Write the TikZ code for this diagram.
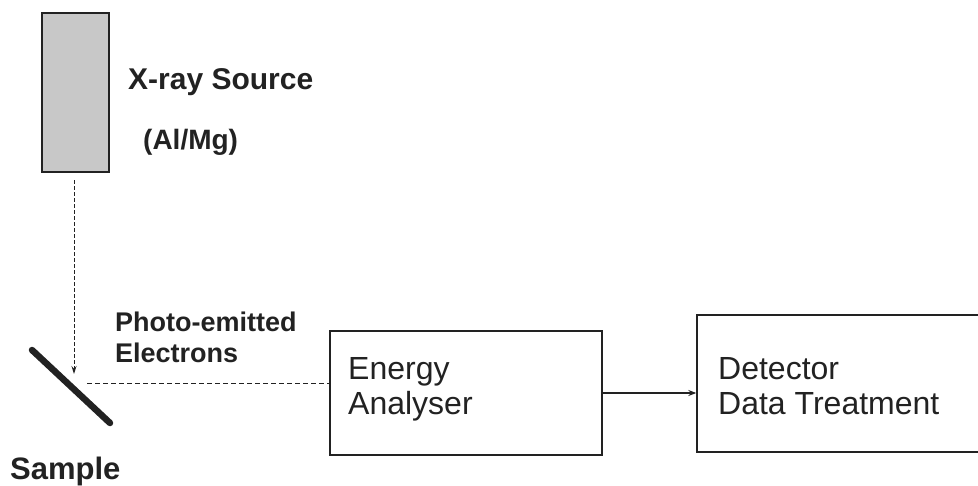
\documentclass[tikz,border=0pt]{standalone}
\usepackage{fontspec}
\setmainfont{Liberation Sans}
\usetikzlibrary{arrows.meta}
\definecolor{ink}{HTML}{222222}
\definecolor{srcgray}{HTML}{C8C8C8}
\begin{document}
\begin{tikzpicture}[x=1pt,y=-1pt,
  box/.style={draw=ink, line width=1.4pt, rectangle, inner sep=0pt},
  lbl/.style={anchor=base west, inner sep=0pt, text=ink, font=\fontsize{27}{30}\selectfont\bfseries},
  boxtxt/.style={anchor=base west, inner sep=0pt, text=ink, font=\fontsize{32}{34}\selectfont},
  dsh/.style={draw=ink, line width=1pt, dash pattern=on 5pt off 3pt}]
\useasboundingbox (0,0) rectangle (978,485);
\clip (0,0) rectangle (978,485);
% X-ray source
\node[box, fill=srcgray, minimum width=67pt, minimum height=159pt] (src) at (75.5,92.5) {};
\node[lbl, font=\fontsize{30}{32}\selectfont\bfseries] (srclbl) at (128,89) {X-ray Source};
\node[lbl, font=\fontsize{28}{32}\selectfont\bfseries] (srcmat) at (143,149) {(Al/Mg)};
% sample
\coordinate (s1) at (32,350);
\coordinate (s2) at (110,423);
\draw[ink, line width=6.5pt, line cap=round] (s1) -- (s2);
\node[lbl, font=\fontsize{31}{34}\selectfont\bfseries] (samplbl) at (10,479) {Sample};
% incident x-rays
\coordinate (xtop) at (74,180);
\coordinate (xhit) at (74,374);
\draw[dsh, dash pattern=on 4pt off 2pt, -{Stealth[length=8pt,width=5pt]}] (xtop) -- (xhit);
% energy analyser
\node[box, minimum width=272pt, minimum height=124pt] (ea) at (466,393) {};
\node[boxtxt] (eat1) at (348,379) {Energy};
\node[boxtxt] (eat2) at (348,414) {Analyser};
% detector
\node[box, minimum width=320pt, minimum height=137pt] (det) at (857,383.5) {};
\node[boxtxt] (dt1) at (718,379) {Detector};
\node[boxtxt] (dt2) at (718,414) {Data Treatment};
% photo-emitted electrons
\coordinate (eo) at (87,383);
\draw[dsh] (eo) -- (eo -| ea.west);
\node[lbl] (pe1) at (115,331) {Photo-emitted};
\node[lbl] (pe2) at (115,362) {Electrons};
% analyser to detector
\draw[ink, line width=1.2pt, -{Stealth[length=8pt,width=6pt]}] (ea.east) -- (ea.east -| det.west);
\end{tikzpicture}
\end{document}
